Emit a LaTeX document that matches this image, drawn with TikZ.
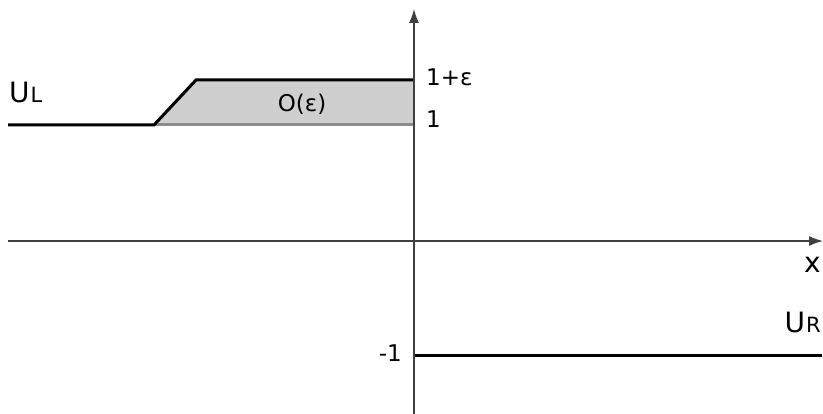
\documentclass[tikz,border=0pt]{standalone}
\usepackage{fontspec}
\setmainfont{DejaVu Sans}
\usetikzlibrary{arrows.meta}
\newcommand{\mysub}[1]{\kern1pt{\fontsize{21}{24}\selectfont #1}}
\tikzset{
  axis/.style={draw=black!75, line width=1.3pt, -{Latex[length=14pt,width=10pt]}},
  level/.style={draw=black, line width=3pt},
  lbl/.style={inner sep=0pt, font=\fontsize{23}{27}\selectfont},
  biglbl/.style={inner sep=0pt, font=\fontsize{28}{32}\selectfont},
}
\begin{document}
\begin{tikzpicture}[x=1pt,y=-1pt]
\useasboundingbox (0,0) rectangle (823,414);
% shaded region
\fill[black!19] (154,125) -- (196,80) -- (414,80) -- (414,125) -- cycle;
\draw[black!45, line width=3pt] (154,125) -- (414,125);
% levels
\coordinate (l0) at (8,125);
\coordinate (l1) at (154,125);
\coordinate (l2) at (196,80);
\coordinate (l3) at (414,80);
\draw[level, line join=miter] (l0) -- (l1) -- (l2) -- (l3);
\coordinate (r0) at (414,356);
\coordinate (r1) at (822,356);
\draw[level] (r0) -- (r1);
% axes
\coordinate (yb) at (414,414);
\coordinate (yt) at (414,9);
\coordinate (xl) at (8,241);
\coordinate (xr) at (823,241);
\draw[axis] (yb) -- (yt);
\draw[axis] (xl) -- (xr);
% labels
\node[lbl, anchor=base] (eps) at (302,112) {O(ε)};
\node[lbl, anchor=base west] (one1e) at (426,86) {1+ε};
\node[lbl, anchor=base west] (one) at (426,128) {1};
\node[lbl, anchor=base east] (mone) at (402,362) {-1};
\node[biglbl, anchor=base west] (UL) at (9,103) {U\mysub{L}};
\node[biglbl, anchor=base east] (UR) at (821,333) {U\mysub{R}};
\node[biglbl, anchor=base east] (xlab) at (821,273) {x};
\end{tikzpicture}
\end{document}
